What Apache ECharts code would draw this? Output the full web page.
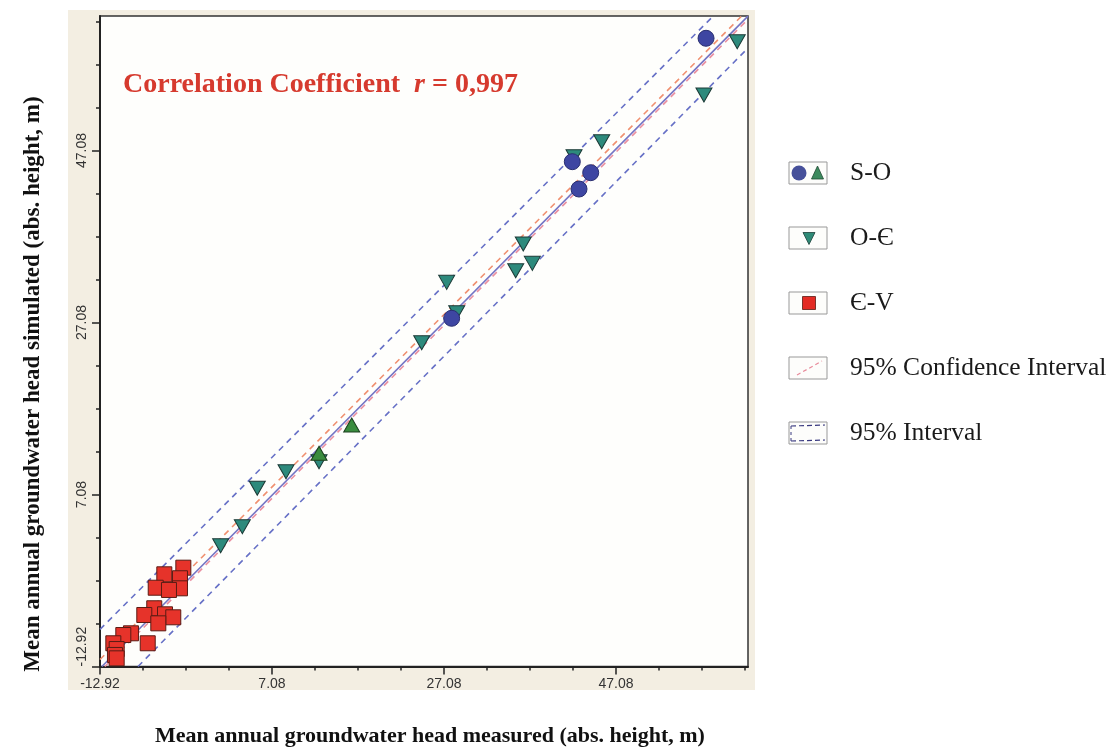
<!DOCTYPE html>
<html>
<head>
<meta charset="utf-8">
<script src="https://cdn.jsdelivr.net/npm/echarts@6/dist/echarts.min.js"></script>
<style>
  html, body { margin: 0; background: #fff; }
  #chart { width: 1114px; height: 751px; }
</style>
</head>
<body>
<div id="chart"></div>
<script>
// axis ranges and ticks (both axes use the same scale)
const xMin = -12.92, xMax = 62.43;
const yMin = -12.92, yMax = 62.72;
const majorTicks = [-12.92, 7.08, 27.08, 47.08];
const minorTicks = [-12.92, -7.92, -2.92, 2.08, 7.08, 12.08, 17.08, 22.08, 27.08,
  32.08, 37.08, 42.08, 47.08, 52.08, 57.08, 62.08];

// S-O points: circles and up triangles  [measured, simulated]
const soCircles = [[27.97, 27.57], [42.00, 45.78], [44.14, 44.50], [42.78, 42.60], [57.55, 60.13]];
const soTriangles = [[12.55, 11.87], [16.35, 15.16]];

// O-Є points (down triangles)
const oeTriangles = [
  [1.11, 1.13], [3.63, 3.34], [5.37, 7.80], [8.71, 9.73], [12.55, 10.89],
  [24.49, 24.73], [27.39, 31.75], [28.56, 28.22], [35.42, 33.10], [36.30, 36.21],
  [37.35, 33.96], [42.20, 46.36], [45.42, 48.10], [57.31, 53.53], [61.18, 59.73]
];

// Є-V points (squares)
const evSquares = [
  [-3.23, -1.43], [-5.44, -2.20], [-3.62, -2.66], [-3.62, -3.83], [-6.44, -3.76],
  [-4.90, -4.02], [-6.61, -6.15], [-7.77, -6.93], [-5.36, -6.85], [-4.40, -7.20],
  [-6.14, -7.90], [-9.32, -9.06], [-10.21, -9.26], [-7.37, -10.22], [-11.37, -10.22],
  [-10.98, -10.89], [-11.18, -11.58], [-10.98, -11.97]
];

// fitted line and bands, end points
const regLine = [[-12.7, -12.92], [62.43, 62.7]];
const ciUpper = [[-12.92, -12.1], [61.7, 62.72]];
const ciLower = [[-12.35, -12.92], [62.43, 62.35]];
const piUpper = [[-12.92, -8.6], [58.4, 62.72]];
const piLower = [[-8.5, -12.92], [62.43, 59.0]];

const serif = '"Liberation Serif", "DejaVu Serif", serif';
const sans = '"Liberation Sans", Arial, sans-serif';

function lineSeries(data, color, type, width) {
  return {
    type: 'line', data: data, showSymbol: false, silent: true, z: 2,
    lineStyle: { color: color, type: type, width: width }
  };
}

function pointSeries(data, symbol, size, color, border, rotate) {
  return {
    type: 'scatter', data: data, symbol: symbol, symbolSize: size,
    symbolRotate: rotate || 0, z: 5,
    itemStyle: { color: color, borderColor: border, borderWidth: 1, opacity: 1 }
  };
}

function axis(pos, min, max, main) {
  return {
    type: 'value', position: pos, min: min, max: max,
    axisLine: { show: main, onZero: false, lineStyle: { color: '#222', width: 2 } },
    axisTick: {
      show: true, inside: false, length: main ? 8 : 4,
      customValues: main ? majorTicks : minorTicks,
      lineStyle: { color: '#222', width: 1.5 }
    },
    axisLabel: {
      show: main, customValues: majorTicks, margin: 11,
      rotate: pos === 'left' ? 90 : 0,
      alignMinLabel: pos === 'left' ? 'left' : 'center',
      color: '#333', fontFamily: sans, fontSize: 14,
      formatter: v => v.toFixed(2)
    },
    splitLine: { show: false }
  };
}

// legend rows
const legendRows = [
  { label: 'S-O', y: 173 },
  { label: 'O-Є', y: 238 },
  { label: 'Є-V', y: 303 },
  { label: '95% Confidence Interval', y: 368 },
  { label: '95% Interval', y: 433 }
];

const graphics = [
  { type: 'rect', z: -100, shape: { x: 68, y: 10, width: 687, height: 680 },
    style: { fill: '#f3eee2' } },
  { type: 'text', x: 123, y: 85, z: 10,
    style: {
      text: '{a|Correlation Coefficient  }{i|r}{a| = 0,997}',
      verticalAlign: 'middle',
      rich: {
        a: { font: 'bold 28px ' + serif, fill: '#d63a2e' },
        i: { font: 'italic bold 28px ' + serif, fill: '#d63a2e' }
      }
    } },
  { type: 'text', x: 430, y: 736,
    style: { text: 'Mean annual groundwater head measured (abs. height, m)',
      font: 'bold 22px ' + serif, fill: '#111', align: 'center', verticalAlign: 'middle' } },
  { type: 'text', x: 33, y: 384, rotation: Math.PI / 2,
    style: { text: 'Mean annual groundwater head simulated (abs. height, m)',
      font: 'bold 23px ' + serif, fill: '#111', align: 'center', verticalAlign: 'middle' } }
];

legendRows.forEach(r => {
  graphics.push({ type: 'rect', shape: { x: 789, y: r.y - 11, width: 38, height: 22 },
    style: { fill: '#fdfdfb', stroke: '#999', lineWidth: 1 } });
  graphics.push({ type: 'text', x: 850, y: r.y,
    style: { text: r.label, font: '25.5px ' + serif, fill: '#1a1a1a', verticalAlign: 'middle' } });
});
// legend icons
graphics.push(
  { type: 'circle', shape: { cx: 799, cy: 173, r: 7.5 }, style: { fill: '#46509a' } },
  { type: 'polygon', shape: { points: [[817.5, 166], [823.5, 179], [811.5, 179]] },
    style: { fill: '#3d8a5e', stroke: '#1f4a33', lineWidth: 0.8 } },
  { type: 'polygon', shape: { points: [[803, 232.5], [815, 232.5], [809, 244.5]] },
    style: { fill: '#2e8a76', stroke: '#1c3f38', lineWidth: 0.8 } },
  { type: 'rect', shape: { x: 802.5, y: 296.5, width: 13, height: 13 },
    style: { fill: '#e32b24', stroke: '#5a1c14', lineWidth: 0.8 } },
  { type: 'line', shape: { x1: 797, y1: 375, x2: 822, y2: 361 },
    style: { stroke: '#e88a9a', lineWidth: 1.2, lineDash: [4, 3] } },
  { type: 'line', shape: { x1: 791, y1: 426, x2: 825, y2: 425 },
    style: { stroke: '#3a3a80', lineWidth: 1.2, lineDash: [5, 3] } },
  { type: 'line', shape: { x1: 791, y1: 441, x2: 825, y2: 440 },
    style: { stroke: '#3a3a80', lineWidth: 1.2, lineDash: [5, 3] } },
  { type: 'line', shape: { x1: 791, y1: 426, x2: 791, y2: 441 },
    style: { stroke: '#3a3a80', lineWidth: 1, lineDash: [3, 3] } }
);

const chart = echarts.init(document.getElementById('chart'), null, { renderer: 'canvas' });
chart.setOption({
  animation: false,
  backgroundColor: '#ffffff',
  grid: {
    left: 100, top: 16, width: 648, height: 650.5,
    show: true, backgroundColor: '#fefefc', borderColor: '#333', borderWidth: 1.5
  },
  xAxis: [axis('bottom', xMin, xMax, true), axis('bottom', xMin, xMax, false)],
  yAxis: [axis('left', yMin, yMax, true), axis('left', yMin, yMax, false)],
  graphic: graphics,
  series: [
    lineSeries(piUpper, '#6670c6', [6, 5], 1.6),
    lineSeries(piLower, '#6670c6', [6, 5], 1.6),
    lineSeries(ciUpper, '#f09070', [6, 5], 1.6),
    lineSeries(ciLower, '#ea8fa0', [6, 5], 1.6),
    lineSeries(regLine, '#7474c4', 'solid', 1.6),
    pointSeries(oeTriangles, 'triangle', [16, 14], '#2d8a7c', '#1c3a36', 180),
    pointSeries(soTriangles, 'triangle', [16, 14], '#3a8c3e', '#1c401e', 0),
    pointSeries(soCircles, 'circle', 16, '#3e46a2', '#2a2f70', 0),
    pointSeries(evSquares, 'rect', 15, '#e6332a', '#5a1c14', 0)
  ]
});
</script>
</body>
</html>
